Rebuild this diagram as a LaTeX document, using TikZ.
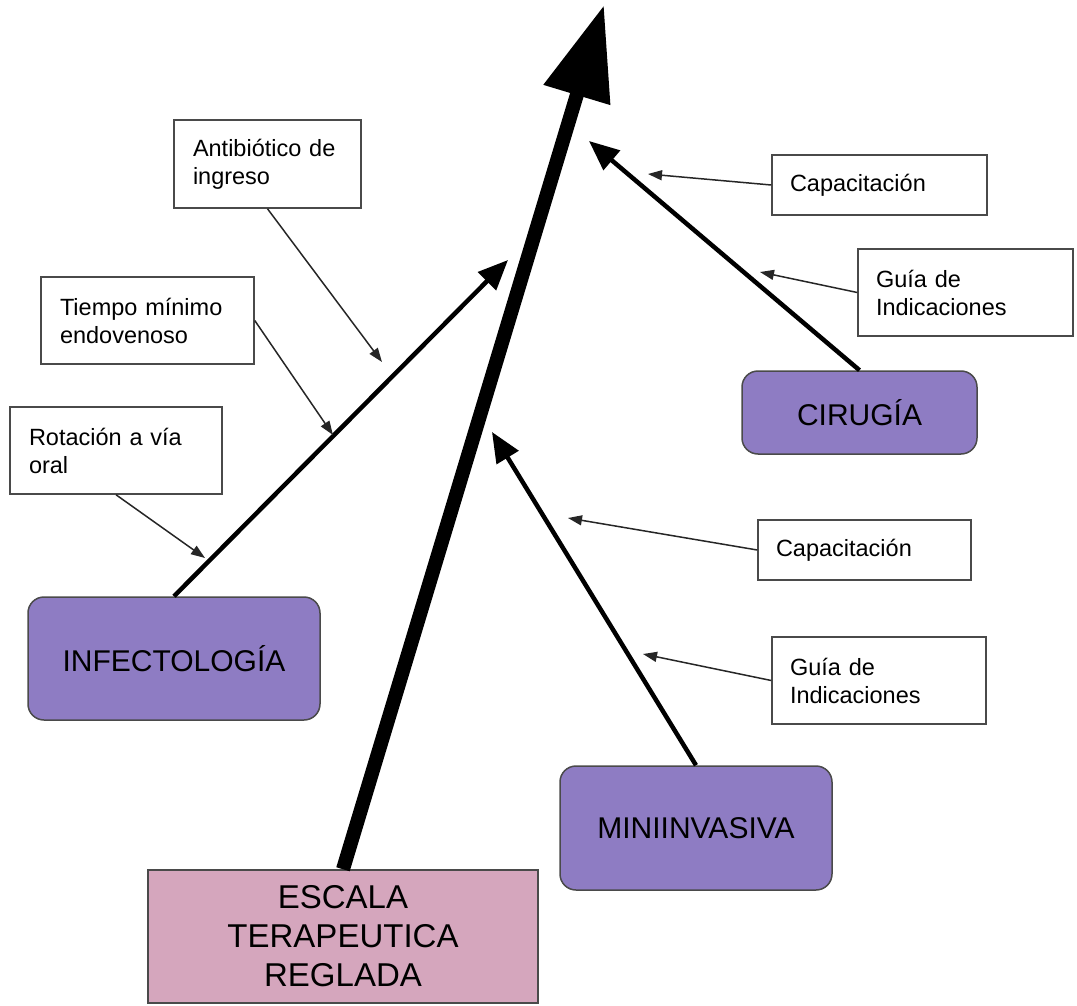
\documentclass[tikz,border=0pt]{standalone}
\usepackage{fontspec}
\setmainfont{Liberation Sans}
\usetikzlibrary{arrows.meta}
\definecolor{areafill}{HTML}{8E7CC3}
\definecolor{basefill}{HTML}{D5A6BD}
\definecolor{edgegray}{HTML}{4A4A4A}
\begin{document}
\begin{tikzpicture}[x=1pt,y=-1pt,
  area/.style={draw=edgegray,line width=1.5pt,fill=areafill,rounded corners=16pt,
    inner sep=0pt,font=\fontsize{30}{36}\selectfont},
  base/.style={draw=edgegray,line width=1.5pt,fill=basefill,inner sep=0pt,align=center,
    font=\fontsize{33}{39}\selectfont},
  factor/.style={draw=edgegray,line width=1.5pt,fill=white,inner sep=0pt,align=left,
    font=\fontsize{23.5}{28}\selectfont},
  branch/.style={line width=4.5pt,-{Triangle[length=30pt,width=25pt]}},
  spine/.style={line width=14pt,-{Triangle[length=94pt,width=66pt]}},
  link/.style={draw=black!85,line width=1.5pt,-{Triangle[length=14pt,width=10pt]}}]
\useasboundingbox (0,0) rectangle (1077,1006);

% main categories
\node[base,minimum width=390pt,minimum height=133pt] (escala) at (343,936.5)
  {ESCALA\\TERAPEUTICA\\REGLADA};
\node[area,minimum width=292pt,minimum height=123pt] (infecto) at (174,658.5) {INFECTOLOGÍA};
\node[area,minimum width=235pt,minimum height=83pt] (cirugia) at (859.5,412.5) {CIRUGÍA};
\node[area,minimum width=272pt,minimum height=124pt] (mini) at (696,828) {MINIINVASIVA};

% contributing factors
\node[factor,minimum width=187pt,minimum height=88pt,text width=149pt] (antib) at (267.5,164) {Antibiótico de\\ingreso};
\node[factor,minimum width=213pt,minimum height=87pt,text width=175pt] (tiempo) at (147.5,320.5) {Tiempo mínimo\\endovenoso};
\node[factor,minimum width=212pt,minimum height=87pt,text width=174pt] (rotacion) at (116,450.5) {Rotación a vía\\oral};
\node[factor,minimum width=215pt,minimum height=60pt,text width=179pt] (capa1) at (879.5,185) {Capacitación};
\node[factor,minimum width=215pt,minimum height=87pt,text width=179pt] (guia1) at (965.5,292.5) {Guía de\\Indicaciones};
\node[factor,minimum width=213pt,minimum height=60pt,text width=177pt] (capa2) at (864.5,550) {Capacitación};
\node[factor,minimum width=214pt,minimum height=87pt,text width=178pt] (guia2) at (879,680.5) {Guía de\\Indicaciones};

% arrow ends
\coordinate (top) at (604,5);
\coordinate (infTip) at (508,260);
\coordinate (cirTip) at (589,141);
\coordinate (miniTip) at (492,432);
\coordinate (pAntib) at (382,362);
\coordinate (pTiempo) at (333,435);
\coordinate (pRot) at (205,558);
\coordinate (pCapa1) at (648,174);
\coordinate (pGuia1) at (760,272);
\coordinate (pCapa2) at (568,518);
\coordinate (pGuia2) at (643,654);

% spine and branches
\draw[spine] (escala.north) -- (top);
\draw[branch] (infecto.north) -- (infTip);
\draw[branch] (cirugia.north) -- (cirTip);
\draw[branch] (mini.north) -- (miniTip);

% factor links
\draw[link] (antib.south) -- (pAntib);
\draw[link] (tiempo.east) -- (pTiempo);
\draw[link] (rotacion.south) -- (pRot);
\draw[link] (capa1.west) -- (pCapa1);
\draw[link] (guia1.west) -- (pGuia1);
\draw[link] (capa2.west) -- (pCapa2);
\draw[link] (guia2.west) -- (pGuia2);
\end{tikzpicture}
\end{document}
